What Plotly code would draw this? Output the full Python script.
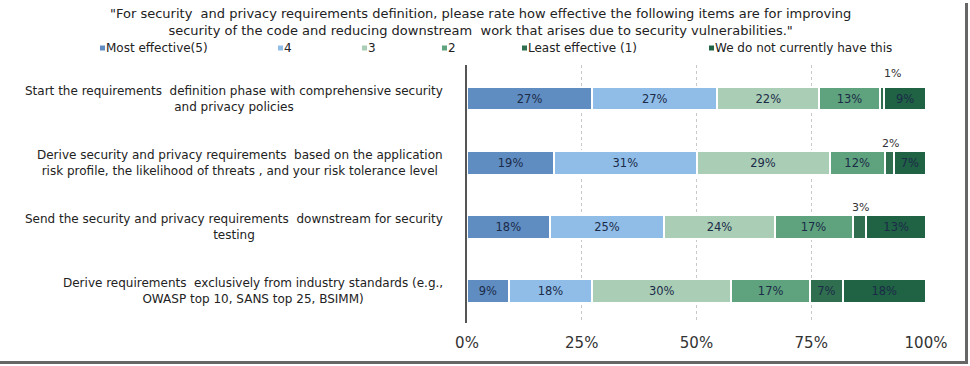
import plotly.graph_objects as go

# ---- data ----
categories = [
    "Start the requirements  definition phase with comprehensive security<br>and privacy policies",
    "Derive security and privacy requirements  based on the application<br>risk profile, the likelihood of threats , and your risk tolerance level",
    "Send the security and privacy requirements  downstream for security<br>testing",
    "Derive requirements  exclusively from industry standards (e.g.,<br>OWASP top 10, SANS top 25, BSIMM)",
]
series_names = ["Most effective(5)", "4", "3", "2", "Least effective (1)", "We do not currently have this"]
most_effective = [27, 19, 18, 9]
rating_4 = [27, 31, 25, 18]
rating_3 = [22, 29, 24, 30]
rating_2 = [13, 12, 17, 17]
least_effective = [1, 2, 3, 7]
not_have = [9, 7, 13, 18]
series_values = [most_effective, rating_4, rating_3, rating_2, least_effective, not_have]
tick_vals = [0, 25, 50, 75, 100]
tick_text = ["0%", "25%", "50%", "75%", "100%"]
title_text = ('"For security  and privacy requirements definition, please rate how effective the following items are for improving<br>'
              'security of the code and reducing downstream  work that arises due to security vulnerabilities."')

colors = ["#5f8dc2", "#8fbde8", "#a9ceb5", "#5ea37d", "#2f6f4f", "#1f6244"]
label_color = "#1c2b48"
FONT = "DejaVu Sans"

W, H = 970, 366
L, R, T, B = 467, 44, 65, 43
pw, ph = W - L - R, H - T - B


def px_x(page_x):
    return (page_x - L) / pw


def px_y(page_y):
    return (H - B - page_y) / ph


ys = list(range(len(categories)))
fig = go.Figure()
for name, vals, col in zip(series_names, series_values, colors):
    fig.add_trace(go.Bar(
        y=ys, x=vals, name=name, orientation="h",
        marker=dict(color=col, line=dict(color="white", width=2)),
        text=[f"{v}%" if v >= 5 else "" for v in vals],
        textposition="inside", insidetextanchor="middle", textangle=0,
        textfont=dict(family=FONT, size=11.5, color=label_color),
        showlegend=False, hoverinfo="skip",
    ))

annotations = []
# title
annotations.append(dict(
    x=px_x(480), y=px_y(22), xref="paper", yref="paper", xanchor="center", yanchor="middle",
    text=title_text, showarrow=False, align="center",
    font=dict(family=FONT, size=13, color="#222"),
))
# category labels
for i, cat in enumerate(categories):
    annotations.append(dict(
        x=0, y=i, xref="paper", yref="y", xanchor="right", yanchor="middle",
        xshift=-22, text=cat, showarrow=False, align="center",
        font=dict(family=FONT, size=12, color="#222"),
    ))

# small-segment labels above bars
small_shift = {0: (11, 25), 1: (1, 19), 2: (1, 19)}
for i in range(len(categories)):
    total = sum(s[i] for s in series_values)
    cum = 0
    for s in series_values:
        v = s[i]
        if v < 5:
            center = (cum + v / 2) / total * 100
            xs, ysft = small_shift.get(i, (0, 19))
            annotations.append(dict(
                x=center, y=i, xref="x", yref="y", text=f"{v}%", showarrow=False,
                xshift=xs, yshift=ysft, font=dict(family=FONT, size=11, color="#333"),
            ))
        cum += v

# legend (coloured squares + text)
legend_marker_px = [100, 278, 362, 442, 522, 709]
legend_y_px = 48
shapes = []
for name, col, mx in zip(series_names, colors, legend_marker_px):
    shapes.append(dict(
        type="rect", xref="paper", yref="paper",
        x0=px_x(mx), x1=px_x(mx + 5), y0=px_y(legend_y_px - 2.5), y1=px_y(legend_y_px + 2.5),
        fillcolor=col, line=dict(width=0),
    ))
    annotations.append(dict(
        x=px_x(mx + 4), y=px_y(legend_y_px), xref="paper", yref="paper",
        xanchor="left", yanchor="middle", showarrow=False, text=name,
        font=dict(family=FONT, size=12, color="#222"),
    ))

# picture frame (bottom and right edges)
shapes += [
    dict(type="line", xref="paper", yref="paper",
         x0=px_x(0), x1=px_x(968), y0=px_y(362.5), y1=px_y(362.5),
         line=dict(color="#666", width=3)),
    dict(type="line", xref="paper", yref="paper",
         x0=px_x(966.5), x1=px_x(966.5), y0=px_y(3), y1=px_y(364),
         line=dict(color="#666", width=3)),
]

fig.update_layout(
    width=W, height=H,
    margin=dict(l=L, r=R, t=T, b=B),
    barmode="stack", barnorm="percent", bargap=0.63,
    plot_bgcolor="white", paper_bgcolor="white",
    xaxis=dict(range=[0, 100], tickvals=tick_vals, ticktext=tick_text,
               showgrid=True, gridcolor="#c8c8c8", griddash="dot", gridwidth=1,
               zeroline=False, showline=False, ticks="", ticklabelstandoff=9,
               tickfont=dict(family=FONT, size=15, color="#333")),
    yaxis=dict(tickvals=ys, showticklabels=False, autorange="reversed",
               range=[3.5, -0.5], showgrid=False, zeroline=False,
               showline=True, linecolor="#555", linewidth=2, ticks=""),
    annotations=annotations,
    shapes=shapes,
)

fig.write_html("out.html",
               config={"displayModeBar": False},
               post_script="document.body.style.margin='0';document.body.style.overflow='hidden';")
